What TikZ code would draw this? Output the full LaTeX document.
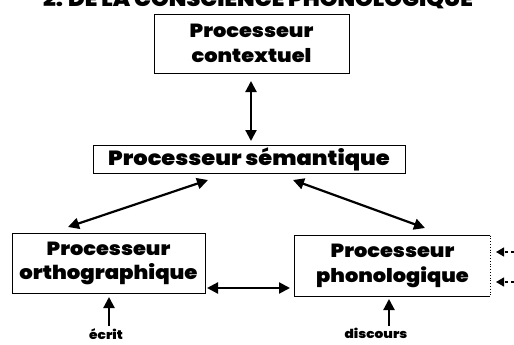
\documentclass[tikz,border=0pt]{standalone}
\usepackage{fontspec}
\setmainfont{Poppins Black}[FakeStretch=1.1]
\usetikzlibrary{arrows.meta}
\begin{document}
\begin{tikzpicture}[x=1pt,y=-1pt,
  box/.style={draw,line width=0.8pt,inner sep=0pt,align=center,font=\fontsize{19}{25}\selectfont},
  lbl/.style={font=\fontsize{12.5}{15}\selectfont,inner sep=0pt},
  arr/.style={line width=2.2pt,-{Triangle[length=11pt,width=11pt]}},
  darr/.style={line width=2.2pt,{Triangle[length=11pt,width=11pt]}-{Triangle[length=11pt,width=11pt]}},
  dasharr/.style={line width=1.2pt,dashed,-{Triangle[length=8pt,width=9pt]}}]
\clip (0,0) rectangle (514,345);
\fill[white] (0,0) rectangle (514,345);
\node[font=\fontsize{20.5}{22}\selectfont,anchor=base,inner sep=0pt] (title) at (258,7) {2. DE LA CONSCIENCE PHONOLOGIQUE};
\node[box,minimum width=195pt,minimum height=59pt] (ctx) at (251.5,43.5) {Processeur\\contextuel};
\node[box,minimum width=312pt,minimum height=28pt,font=\fontsize{20.5}{25}\selectfont] (sem) at (249,159) {Processeur sémantique};
\node[box,minimum width=193pt,minimum height=60pt,font=\fontsize{19}{24}\selectfont] (ort) at (108.5,263) {Processeur\\\fontsize{19.3}{24}\selectfont orthographique};
\node[box,draw=none,minimum width=195pt,minimum height=60pt] (pho) at (392.5,266) {Processeur\\phonologique};
\draw[line width=0.8pt] (pho.north east) -- (pho.north west) -- (pho.south west) -- (pho.south east);
\draw[line width=0.8pt,dotted] (pho.north east) -- (pho.south east);
\node[lbl] (ecr) at (106,334) {écrit};
\node[lbl] (dis) at (376,333) {discours};
\coordinate (r1) at (514,252);
\coordinate (r2) at (514,282);
\coordinate (r1e) at (496,252);
\coordinate (r2e) at (496,282);
\coordinate (ca) at (251,81);
\coordinate (cb) at (251,141);
\coordinate (ea) at (109,326);
\coordinate (eb) at (109,297);
\coordinate (da) at (389,326);
\coordinate (db) at (389,299);
\draw[darr] (ca) -- (cb);
\draw[darr] (68,227) -- (208,180);
\draw[darr] (293,180) -- (425,228);
\draw[darr] (207,288) -- (290,288);
\draw[arr] (ea) -- (eb);
\draw[arr] (da) -- (db);
\draw[dasharr] (r1) -- (r1e);
\draw[dasharr] (r2) -- (r2e);
\end{tikzpicture}
\end{document}
